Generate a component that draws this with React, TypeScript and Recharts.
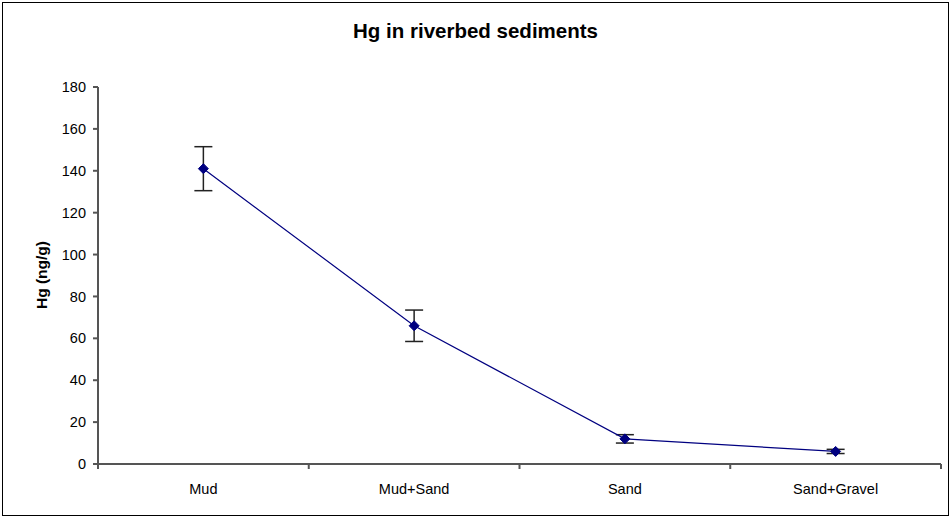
import React from 'react';
import { LineChart, Line, XAxis, YAxis, ErrorBar } from 'recharts';

const categories = ['Mud', 'Mud+Sand', 'Sand', 'Sand+Gravel'];
const hgMean = [141, 66, 12, 6];
const hgErr = [10.5, 7.5, 2, 1];
const yTicks = [0, 20, 40, 60, 80, 100, 120, 140, 160, 180];

const data = categories.map((name, i) => ({
    pos: i + 0.5,
    name,
    hg: hgMean[i],
    err: hgErr[i]
}));

const FONT = '"Liberation Sans", Arial, sans-serif';

const xTickValues: number[] = [];
for (let i = 0; i <= categories.length * 2; i++) xTickValues.push(i / 2);

const XTick = (props: any) => {
    const { x, y, payload } = props;
    const v = payload.value;
    if (Number.isInteger(v)) {
        return <line x1={x} y1={y} x2={x} y2={y + 5} stroke="#555" strokeWidth={2} />;
    }
    const idx = Math.floor(v);
    return (
        <text x={x} y={y + 30} textAnchor="middle" fontSize={14.5} fontFamily={FONT} fill="#000">
            {categories[idx]}
        </text>
    );
};

const Diamond = (props: any) => {
    const { cx, cy } = props;
    if (cx == null || cy == null) return null;
    const r = 5;
    return (
        <polygon
            points={`${cx},${cy - r} ${cx + r},${cy} ${cx},${cy + r} ${cx - r},${cy}`}
            fill="#000080"
            stroke="#000080"
        />
    );
};

export default function App() {
    return (
        <div style={{ position: 'absolute', left: 0, top: 0, width: 951, height: 520, background: '#fff' }}>
            <div
                style={{
                    position: 'absolute',
                    left: 2,
                    top: 2,
                    width: 945,
                    height: 512,
                    border: '1px solid #000'
                }}
            />
            <div
                style={{
                    position: 'absolute',
                    left: 0,
                    top: 19,
                    width: 951,
                    textAlign: 'center',
                    fontFamily: FONT,
                    fontWeight: 'bold',
                    fontSize: 20.5
                }}
            >
                Hg in riverbed sediments
            </div>
            <div
                style={{
                    position: 'absolute',
                    left: 42,
                    top: 275,
                    transform: 'translate(-50%, -50%) rotate(-90deg)',
                    fontFamily: FONT,
                    fontWeight: 'bold',
                    fontSize: 15.5,
                    whiteSpace: 'nowrap'
                }}
            >
                Hg (ng/g)
            </div>
            <div style={{ position: 'absolute', left: 0, top: 0 }}>
                <LineChart
                    width={951}
                    height={520}
                    data={data}
                    margin={{ top: 87, right: 10, bottom: 26, left: 38 }}
                >
                    <XAxis
                        dataKey="pos"
                        type="number"
                        domain={[0, categories.length]}
                        ticks={xTickValues}
                        interval={0}
                        tick={<XTick />}
                        tickLine={false}
                        tickSize={0}
                        tickMargin={0}
                        height={30}
                        axisLine={{ stroke: '#555', strokeWidth: 2 }}
                    />
                    <YAxis
                        domain={[0, 180]}
                        ticks={yTicks}
                        interval={0}
                        width={60}
                        tickSize={5}
                        tickMargin={7}
                        tickLine={{ stroke: '#555', strokeWidth: 2 }}
                        axisLine={{ stroke: '#555', strokeWidth: 2 }}
                        tick={{ fontSize: 14.5, fontFamily: FONT, fill: '#000' }}
                    />
                    <Line
                        type="linear"
                        dataKey="hg"
                        stroke="#000080"
                        strokeWidth={1.2}
                        dot={<Diamond />}
                        activeDot={false}
                        isAnimationActive={false}
                    >
                        <ErrorBar dataKey="err" direction="y" width={9} stroke="#222" strokeWidth={1.5} />
                    </Line>
                </LineChart>
            </div>
        </div>
    );
}
